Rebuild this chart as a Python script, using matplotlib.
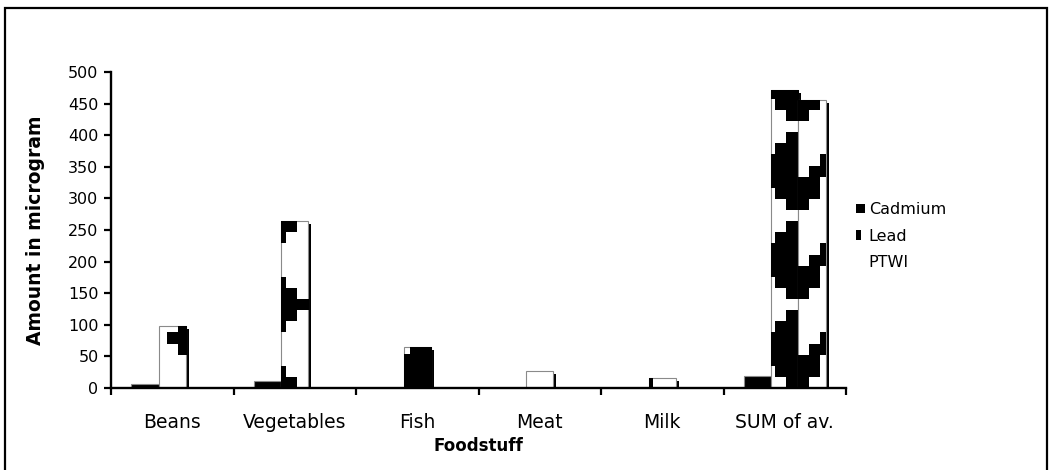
import numpy as np
import matplotlib
matplotlib.use("Agg")
import matplotlib.pyplot as plt
import matplotlib.patheffects as pe
from matplotlib.patches import Rectangle, Patch
from matplotlib.legend_handler import HandlerPatch

# ---- data ----
categories = ["Beans", "Vegetables", "Fish", "Meat", "Milk", "SUM of av."]
cadmium = [7, 11, 0.5, 0.2, 0.3, 19]
lead = [98, 265, 65, 27, 16, 471]
ptwi = [0, 0, 0, 0, 0, 455]
y_ticks = list(range(0, 501, 50))
series_names = ["Cadmium", "Lead", "PTWI"]

# ---- style: phase of the coarse fill pattern inside each group (px offset, row shift) ----
pattern_xoff = [-71, -39.4, -6, -55.6, -51.6, -7]
pattern_rowk = [7, 2, 4, 0, 2, 6]

FW, FH = 1053, 470
fig = plt.figure(figsize=(FW / 100, FH / 100), dpi=100)
L, R, T, Bt = 111, 846, 72, 388
ax = fig.add_axes([L / FW, 1 - Bt / FH, (R - L) / FW, (Bt - T) / FH])

x = np.arange(len(categories))
w = 1 / 4.5
edge = "#8a8a8a"
shadow = [pe.SimplePatchShadow(offset=(2.2, -2.2), shadow_rgbFace="black", alpha=1.0), pe.Normal()]

b_cd = ax.bar(x - w, cadmium, w, color="black", edgecolor=edge, linewidth=0.8, zorder=2)
b_pb = ax.bar(x, lead, w, color="white", edgecolor=edge, linewidth=0.8, zorder=3)
b_pt = ax.bar(x + w, ptwi, w, color="white", edgecolor=edge, linewidth=0.8, zorder=4)
for cont in (b_cd, b_pb, b_pt):
    for p in cont:
        p.set_path_effects(shadow)

ax.set_xlim(-0.5, len(categories) - 0.5)
ax.set_ylim(0, 500)


# ---- coarse 8x8 bitmap patterns (magnified) ----
def make_pattern(cols):
    P = np.zeros((8, 8), dtype=bool)
    for c, rows in enumerate(cols):
        for r in rows:
            P[r % 8, c] = True
    return P


LEAD_PAT = make_pattern([range(2, 5), range(1, 6), range(0, 7), range(1, 6),
                         range(2, 5), [3], [], [3]])
PTWI_PAT = make_pattern([[7, 0], [6, 7], [5, 6], [4, 5, 6], [3, 4, 5], [2, 3], [1, 2], [0, 1]])

pw, ph = R - L, Bt - T
px_x = pw / len(categories)
cell = 89 / 8.0
XX, YY = np.meshgrid(np.arange(pw) + 0.5, np.arange(ph) + 0.5)
cat = np.clip(np.floor(XX / px_x), 0, len(categories) - 1).astype(int)
lead_left = (cat + 0.5 - w / 2) * px_x
xa = lead_left + np.array(pattern_xoff)[cat]
kk = np.array(pattern_rowk)[cat]
col = np.floor((XX - xa) / cell).astype(int) % 8
row = (kk - np.floor(YY / cell).astype(int)) % 8


def to_rgba(m):
    a = np.zeros(m.shape + (4,))
    a[m, 3] = 1.0
    return a


img_lead = to_rgba(LEAD_PAT[row, col])
img_ptwi = to_rgba(PTWI_PAT[row, col])

for cont, img in ((b_pb, img_lead), (b_pt, img_ptwi)):
    for p in cont:
        if p.get_height() <= 0:
            continue
        im = ax.imshow(img, extent=(-0.5, len(categories) - 0.5, 0, 500), origin="lower",
                       interpolation="nearest", aspect="auto", zorder=p.get_zorder() + 0.5)
        im.set_clip_path(p)

ax.set_xlim(-0.5, len(categories) - 0.5)
ax.set_ylim(0, 500)

# ---- axes styling ----
for s in ("top", "right"):
    ax.spines[s].set_visible(False)
for s in ("left", "bottom"):
    ax.spines[s].set_linewidth(1.7)
    ax.spines[s].set_zorder(6)

ax.set_yticks(y_ticks)
ax.tick_params(axis="y", direction="out", length=5, width=1.6, labelsize=11.5, pad=4)
ax.set_xticks(np.arange(-0.5, len(categories), 1))
ax.set_xticklabels([])
ax.tick_params(axis="x", which="major", direction="out", length=5, width=1.6)
ax.set_xticks(x, minor=True)
ax.set_xticklabels(categories, minor=True)
ax.tick_params(axis="x", which="minor", length=0, pad=18, labelsize=13.5)

ax.set_ylabel("Amount in microgram", fontsize=13.5, fontweight="bold")
ax.yaxis.set_label_coords((45 - L) / pw, 0.5)
ax.set_xlabel("Foodstuff", fontsize=12, fontweight="bold")
ax.xaxis.set_label_coords(0.5, (Bt - 437) / ph)


# ---- legend ----
def narrow_patch(legend, orig_handle, xdescent, ydescent, width, height, fontsize):
    return Rectangle((-xdescent, -ydescent), width * 0.55, height)


h_cd = Patch(facecolor="black", edgecolor="none")
h_pb = Patch(facecolor="black", edgecolor="none")
h_pt = Patch(facecolor="white", edgecolor="none")
fig.legend([h_cd, h_pb, h_pt], series_names, loc="upper left",
           bbox_to_anchor=(856 / FW, 1 - 202 / FH), frameon=False, fontsize=11.5,
           handlelength=0.55, handleheight=0.55, handletextpad=0.25, labelspacing=0.72,
           borderpad=0, borderaxespad=0,
           handler_map={h_pb: HandlerPatch(patch_func=narrow_patch)})

# ---- outer frame ----
fig.patches.append(Rectangle((5 / FW, -0.1), (1047 - 5) / FW, 1.1 - 8 / FH,
                             transform=fig.transFigure, fill=False, lw=1.6, ec="black"))

fig.savefig("out.png", dpi=100)
